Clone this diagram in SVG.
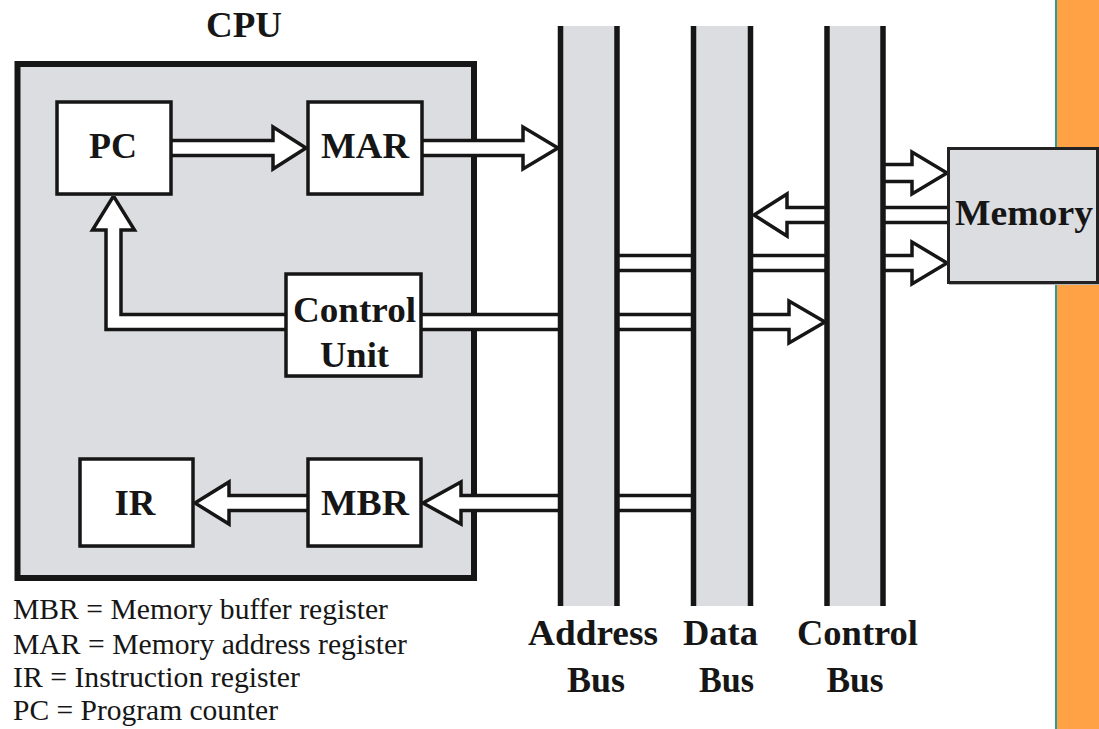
<svg xmlns="http://www.w3.org/2000/svg" width="1099" height="729" viewBox="0 0 1099 729">
  <style>
    text { font-family: 'Liberation Serif', serif; }
    .bold { font-weight: bold; font-size: 36px; fill: #161616; }
    .legend { font-size: 29px; fill: #161616; }
    .box { fill: #ffffff; stroke: #161616; stroke-width: 3.5; }
    .shadow { fill: #b5b5b5; }
    .arr { fill: #ffffff; stroke: #161616; stroke-width: 3.5; stroke-linejoin: miter; }
    .busfill { fill: #dcdde0; }
    .busline { stroke: #161616; stroke-width: 5.5; }
  </style>

  <rect x="0" y="0" width="1099" height="729" fill="#ffffff"/>

  <!-- right orange strip -->
  <g id="side-strip">
    <rect x="1057" y="0" width="42" height="729" fill="#ffa245"/>
    <line x1="1056" y1="0" x2="1056" y2="729" stroke="#2a9d9a" stroke-width="2"/>
  </g>

  <!-- CPU container -->
  <g id="cpu">
    <rect x="17.5" y="64" width="456.5" height="514" fill="#dcdde0" stroke="#161616" stroke-width="6"/>
    <text class="bold" font-family="Liberation Serif" x="244" y="37" text-anchor="middle" textLength="76" lengthAdjust="spacingAndGlyphs">CPU</text>
  </g>

  <!-- connectors -->
  <g id="connectors">
    <polyline class="arr" points="171,140.5 273,140.5 273,127 306,148 273,169 273,155.5 171,155.5"/>
    <polyline class="arr" points="422,140.5 523,140.5 523,127 558,148 523,169 523,155.5 422,155.5"/>
    <polyline class="arr" points="286,329.5 106,329.5 106,230 92.5,230 113.5,196 134.5,230 121,230 121,314.5 286,314.5"/>
    <polyline class="arr" points="421,314.5 789,314.5 789,301 825,322 789,343 789,329.5 421,329.5"/>
    <polyline class="arr" points="693,495.5 461,495.5 461,482 423,503 461,524 461,510.5 693,510.5"/>
    <polyline class="arr" points="308,495.5 229,495.5 229,482 195,503 229,524 229,510.5 308,510.5"/>
    <polyline class="arr" points="880,164.5 912,164.5 912,152 947,173 912,194 912,181.5 880,181.5"/>
    <polyline class="arr" points="950,207.5 787,207.5 787,194 754,215 787,236 787,222.5 950,222.5"/>
    <polyline class="arr" points="612,255.5 912,255.5 912,242 947,263 912,284 912,270.5 612,270.5"/>
  </g>

  <!-- buses -->
  <g id="address-bus">
    <rect class="busfill" x="560" y="26" width="58" height="580"/>
    <line class="busline" x1="560.5" y1="26" x2="560.5" y2="606"/>
    <line class="busline" x1="617" y1="26" x2="617" y2="606"/>
    <text class="bold" x="593" y="645" text-anchor="middle" textLength="130" lengthAdjust="spacingAndGlyphs">Address</text>
    <text class="bold" x="596" y="692" text-anchor="middle" textLength="58" lengthAdjust="spacingAndGlyphs">Bus</text>
  </g>
  <g id="data-bus">
    <rect class="busfill" x="693" y="26" width="58" height="580"/>
    <line class="busline" x1="693.5" y1="26" x2="693.5" y2="606"/>
    <line class="busline" x1="750.5" y1="26" x2="750.5" y2="606"/>
    <text class="bold" x="720.5" y="645" text-anchor="middle" textLength="75" lengthAdjust="spacingAndGlyphs">Data</text>
    <text class="bold" x="726.5" y="692" text-anchor="middle" textLength="55" lengthAdjust="spacingAndGlyphs">Bus</text>
  </g>
  <g id="control-bus">
    <rect class="busfill" x="827" y="26" width="56" height="580"/>
    <line class="busline" x1="827" y1="26" x2="827" y2="606"/>
    <line class="busline" x1="883" y1="26" x2="883" y2="606"/>
    <text class="bold" x="857.5" y="645" text-anchor="middle" textLength="121" lengthAdjust="spacingAndGlyphs">Control</text>
    <text class="bold" x="855" y="692" text-anchor="middle" textLength="57" lengthAdjust="spacingAndGlyphs">Bus</text>
  </g>

  <!-- CPU inner nodes -->
  <g id="pc">
    <rect class="shadow" x="57" y="103" width="115" height="93"/>
    <rect class="box" x="57" y="102" width="114" height="92"/>
    <text class="bold" x="113" y="158" text-anchor="middle" textLength="48" lengthAdjust="spacingAndGlyphs">PC</text>
  </g>
  <g id="mar">
    <rect class="shadow" x="308" y="103" width="115" height="93"/>
    <rect class="box" x="308" y="102" width="114" height="92"/>
    <text class="bold" x="365" y="158" text-anchor="middle" textLength="88" lengthAdjust="spacingAndGlyphs">MAR</text>
  </g>
  <g id="control-unit">
    <rect class="shadow" x="286" y="275" width="136" height="103"/>
    <rect class="box" x="286" y="274" width="135" height="102"/>
    <text class="bold" x="354.5" y="322" text-anchor="middle" textLength="123" lengthAdjust="spacingAndGlyphs">Control</text>
    <text class="bold" x="354.5" y="367" text-anchor="middle" textLength="69" lengthAdjust="spacingAndGlyphs">Unit</text>
  </g>
  <g id="ir">
    <rect class="shadow" x="80" y="460" width="114" height="88"/>
    <rect class="box" x="80" y="459" width="113" height="87"/>
    <text class="bold" x="135" y="515" text-anchor="middle" textLength="41" lengthAdjust="spacingAndGlyphs">IR</text>
  </g>
  <g id="mbr">
    <rect class="shadow" x="308" y="460" width="114" height="88"/>
    <rect class="box" x="308" y="459" width="113" height="87"/>
    <text class="bold" x="365" y="515" text-anchor="middle" textLength="88" lengthAdjust="spacingAndGlyphs">MBR</text>
  </g>

  <!-- Memory -->
  <g id="memory">
    <rect class="shadow" x="949" y="150" width="150" height="135"/>
    <rect x="948.5" y="148.5" width="149" height="134" fill="#dcdde0" stroke="#222222" stroke-width="3"/>
    <text class="bold" x="1024" y="225" text-anchor="middle" font-size="37" textLength="138" lengthAdjust="spacingAndGlyphs">Memory</text>
  </g>

  <!-- legend -->
  <g id="legend">
    <text class="legend" x="13" y="619" textLength="375" lengthAdjust="spacingAndGlyphs">MBR = Memory buffer register</text>
    <text class="legend" x="13" y="654" textLength="394" lengthAdjust="spacingAndGlyphs">MAR = Memory address register</text>
    <text class="legend" x="13" y="687" textLength="287" lengthAdjust="spacingAndGlyphs">IR = Instruction register</text>
    <text class="legend" x="13" y="720" textLength="265" lengthAdjust="spacingAndGlyphs">PC = Program counter</text>
  </g>
</svg>
